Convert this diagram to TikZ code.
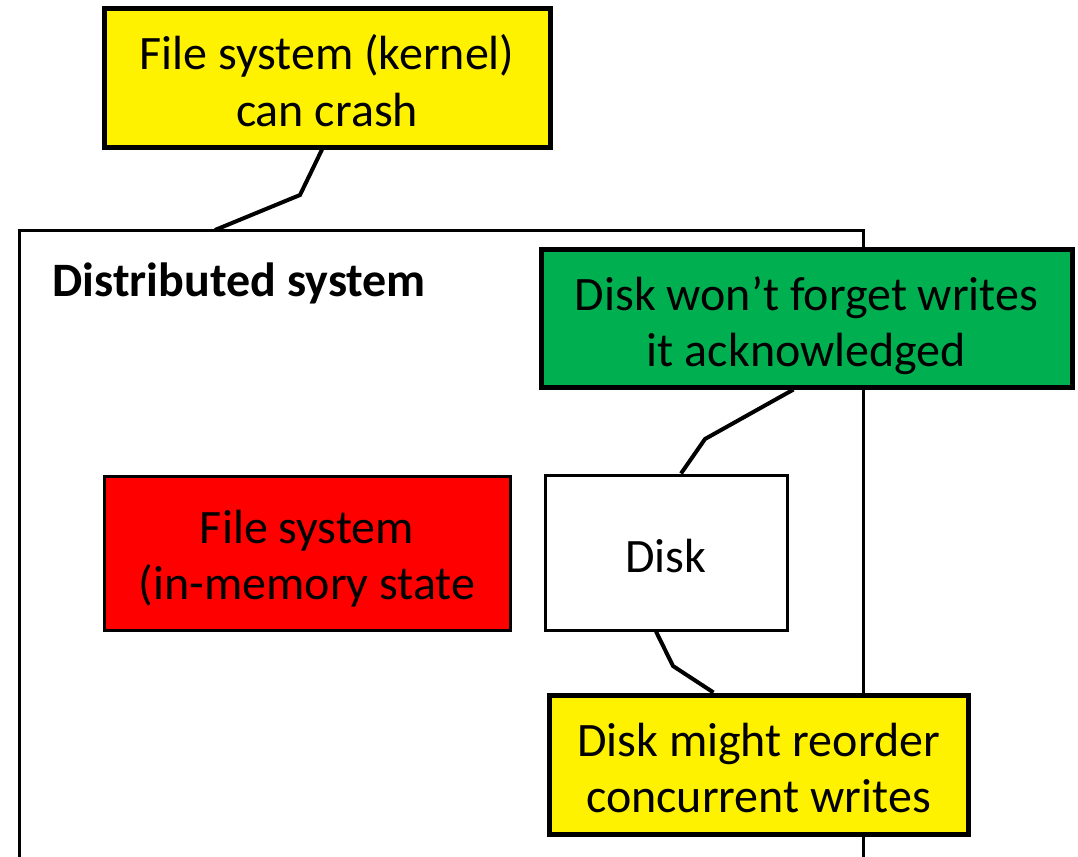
\documentclass[tikz,border=0pt]{standalone}
\usepackage{fontspec}
\setmainfont{Carlito}
\usetikzlibrary{positioning}
\definecolor{notegreen}{HTML}{00B050}
\tikzset{
  note/.style={draw,line width=5pt,fill=yellow,align=center,inner sep=0pt,
    font=\fontsize{48}{56}\selectfont,text height=96pt,text depth=0pt},
  part/.style={draw,line width=3pt,align=center,inner sep=0pt,
    font=\fontsize{48}{56}\selectfont,text height=96pt,text depth=0pt},
  link/.style={line width=4pt}
}
\begin{document}
\begin{tikzpicture}[x=1pt,y=-1pt]
\useasboundingbox (0,0) rectangle (1078,856);
% frame
\draw[line width=3pt] (19,870) -- (19,230) -- (863,230) -- (863,870);
\node[anchor=base west,font=\fontsize{48}{56}\selectfont\bfseries] (title) at (49,296) {Distributed system};
%
\node[note,minimum width=446pt,minimum height=138pt] (kernel) at (327,78) {File system (kernel)\\can crash};
\node[note,fill=notegreen,minimum width=531pt,minimum height=138pt] (ack) at (806.5,318) {Disk won’t forget writes\\it acknowledged};
\node[part,fill=red,minimum width=406pt,minimum height=154pt,text height=92pt] (fs) at (307,553) {File system\\(in-memory state};
\node[part,fill=white,minimum width=242pt,minimum height=155pt,text height=40pt] (disk) at (666,552.5) {Disk};
\node[note,minimum width=419pt,minimum height=139pt] (order) at (758.5,764.5) {Disk might reorder\\concurrent writes};
%
\coordinate (top) at (215,230);
\draw[link] ([xshift=-5pt]kernel.south) -- (300,195) -- (top);
\draw[link] ([xshift=-13pt]ack.south) -- (705,439) -- ([xshift=15pt]disk.north);
\draw[link] ([xshift=-10pt]disk.south) -- (673,666) -- ([xshift=-45pt]order.north);
\end{tikzpicture}
\end{document}
